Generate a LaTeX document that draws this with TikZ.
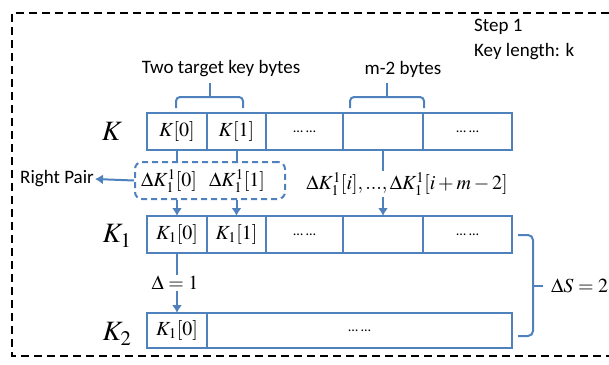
\documentclass[tikz,border=0pt]{standalone}
\usepackage{mathptmx}
\usepackage[no-math]{fontspec}
\setmainfont{Carlito}
\usetikzlibrary{arrows.meta}
\definecolor{keyblue}{RGB}{79,129,189}
\newcommand{\celldots}{{\fontsize{14}{16}\selectfont\dots\ \dots}}

\begin{document}
\begin{tikzpicture}[x=1pt,y=-1pt,
  cell/.style={draw=keyblue, line width=2pt, minimum height=37pt, inner sep=0pt, outer sep=0pt, font=\fontsize{20}{24}\selectfont},
  rowlabel/.style={font=\fontsize{28}{32}\selectfont},
  bluelink/.style={draw=keyblue, line width=2pt},
  bluearrow/.style={bluelink, -{Latex[length=8pt,width=10pt]}},
  mathtxt/.style={font=\fontsize{20}{24}\selectfont, inner sep=1pt},
  plaintxt/.style={font=\fontsize{19}{22}\selectfont, inner sep=1pt}]
  \useasboundingbox (0,0) rectangle (609,364);
  \draw[line width=2.5pt, dash pattern=on 8pt off 5pt] (609,13) -- (12,13) -- (12,356) -- (609,356);

  \node[plaintxt, anchor=west] (st) at (473,27) {Step 1};
  \node[plaintxt, anchor=west] (kl) at (473,52) {Key length: k};
  \node[plaintxt] (two) at (221,69) {Two target key bytes};
  \node[plaintxt] (mb) at (403,69) {m-2 bytes};
  \draw[bluelink, rounded corners=4pt] (176,108) -- (176,97) -- (243,97) -- (243,108);
  \draw[bluelink] (210,97) -- (210,83);
  \draw[bluelink, rounded corners=4pt] (350,108) -- (350,97) -- (424,97) -- (424,108);
  \draw[bluelink] (387,97) -- (387,83);

  % key K
  \node[rowlabel] (lk) at (112,131) {$K$};
  \node[cell, minimum width=60pt] (k0) at (177,131.5) {$K[0]$};
  \node[cell, minimum width=59pt] (k1) at (236.5,131.5) {$K[1]$};
  \node[cell, minimum width=77pt] (k2) at (304.5,131.5) {\celldots};
  \node[cell, minimum width=80pt] (k3) at (383,131.5) {};
  \node[cell, minimum width=89pt] (k4) at (467.5,131.5) {\celldots};

  % differences
  \node[draw=keyblue, line width=2pt, dash pattern=on 6pt off 4pt, rounded corners=7pt,
        minimum width=150pt, minimum height=37pt] (pair) at (210,180.5) {};
  \node[mathtxt] (d0) at (169,181) {$\Delta K_1^1[0]$};
  \node[mathtxt] (d1) at (237,181) {$\Delta K_1^1[1]$};
  \node[plaintxt] (rp) at (57,179) {Right Pair};
  \node[mathtxt] (dk) at (407,184) {$\Delta K_1^1[i],...,\Delta K_1^1[i+m-2]$};

  % key K1
  \node[rowlabel] (lk1) at (117,236) {$K_1$};
  \node[cell, minimum width=60pt] (k10) at (177,234.5) {$K_1[0]$};
  \node[cell, minimum width=59pt] (k11) at (236.5,234.5) {$K_1[1]$};
  \node[cell, minimum width=77pt] (k12) at (304.5,234.5) {\celldots};
  \node[cell, minimum width=80pt] (k13) at (383,234.5) {};
  \node[cell, minimum width=89pt] (k14) at (467.5,234.5) {\celldots};

  % key K2
  \node[rowlabel] (lk2) at (117,334) {$K_2$};
  \node[cell, minimum width=60pt, minimum height=35pt] (k20) at (177,330.5) {$K_1[0]$};
  \node[cell, minimum width=305pt, minimum height=35pt] (k21) at (359.5,330.5) {\celldots};
  \node[mathtxt] (d2) at (175,283) {$\Delta=1$};

  \draw[bluelink] (k0.south) -- (k0.south |- pair.north);
  \draw[bluearrow] (k0.south |- pair.south) -- (k10.north);
  \draw[bluelink] (k1.south) -- (k1.south |- pair.north);
  \draw[bluearrow] (k1.south |- pair.south) -- (k11.north);
  \draw[bluearrow] (pair.west) -- (rp.east);
  \draw[bluelink] (k3.south) -- (k3.south |- dk.north);
  \draw[bluearrow] (k3.south |- dk.south) -- (k13.north);
  \draw[bluelink] (k10.south) -- (k10.south |- d2.north);
  \draw[bluearrow] (k10.south |- d2.south) -- (k20.north);

  \draw[bluelink, rounded corners=5pt] (518,235) -- (533,235) -- (533,336) -- (518,336);
  \draw[bluelink] (533,286) -- (543,286);
  \node[mathtxt, anchor=west] (ds) at (550,286) {$\Delta S=2$};
\end{tikzpicture}
\end{document}
